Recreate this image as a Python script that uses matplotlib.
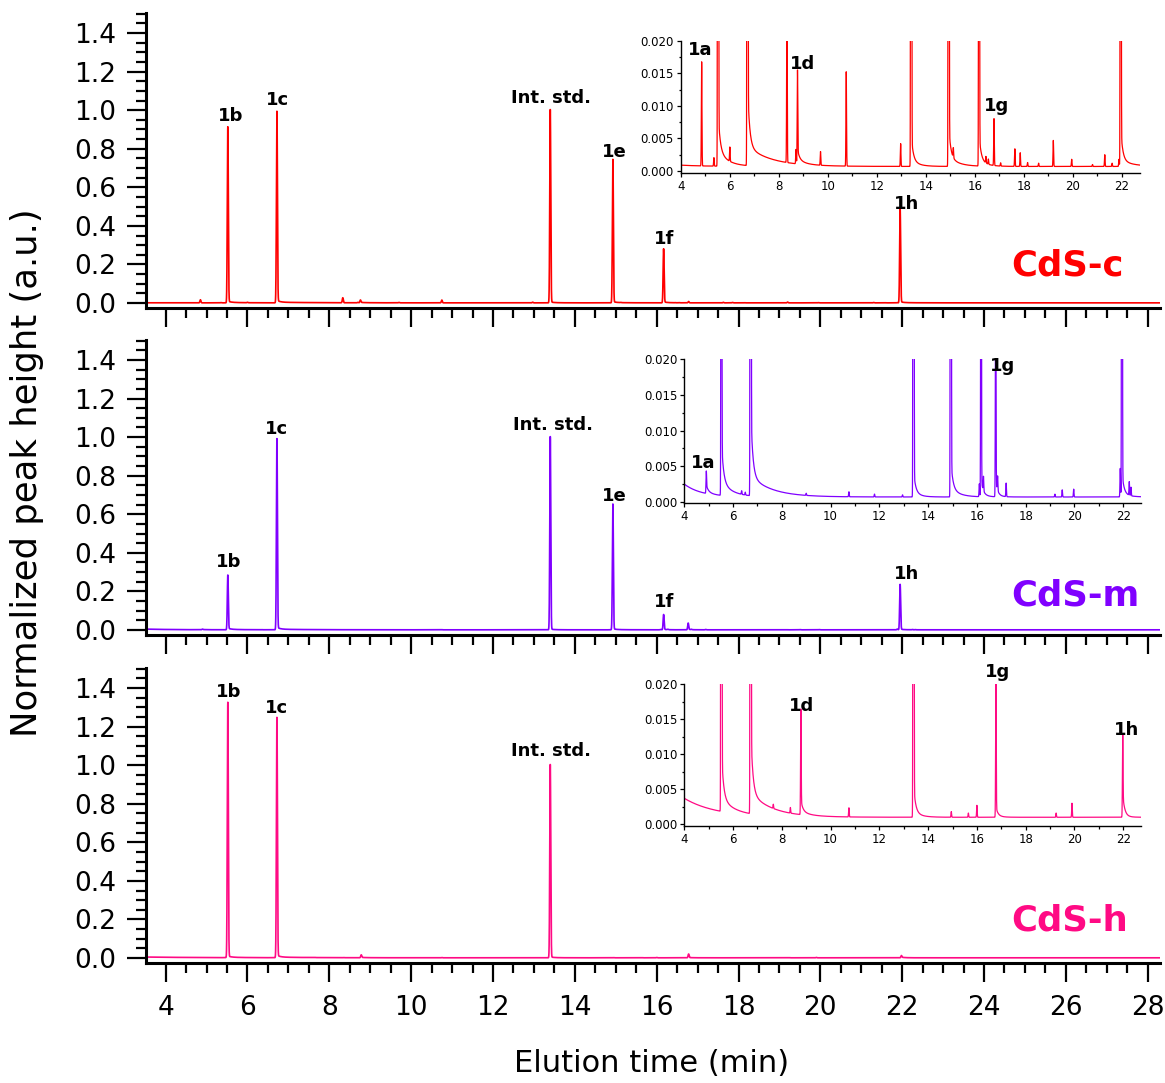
import numpy as np
import matplotlib
matplotlib.use("Agg")
import matplotlib.pyplot as plt
from matplotlib.ticker import MultipleLocator, FormatStrFormatter

# ---------------------------------------------------------------------------
# Chromatogram data: resolved peaks (retention time in min, normalized height
# above baseline), peak tailing terms and baseline drift for each catalyst.
# ---------------------------------------------------------------------------

# CdS-c
c_peak_t = [4.85, 5.35, 5.52, 6.00, 6.72, 8.33, 8.70, 8.76, 9.70, 10.75, 12.97,
            13.40, 14.93, 15.12, 16.17, 16.45, 16.55, 16.78, 17.05, 17.63, 17.85,
            18.15, 18.60, 19.20, 19.95, 20.80, 21.30, 21.60, 21.88, 21.95]
c_peak_h = [0.0160, 0.0013, 0.909, 0.0022, 0.987, 0.026, 0.0022, 0.0133, 0.0021,
            0.0145, 0.0035, 1.000, 0.741, 0.0015, 0.278, 0.0010, 0.0008, 0.0072,
            0.0005, 0.0027, 0.0021, 0.0006, 0.0005, 0.0040, 0.0011, 0.0003,
            0.0018, 0.0005, 0.0011, 0.486]
c_tail_t = [5.52, 6.72, 8.76, 13.40, 14.93, 16.17, 21.95]
c_tail_fast = [0.006, 0.010, 0.0015, 0.004, 0.005, 0.004, 0.005]
c_tail_slow = [0.0025, 0.003, 0.0008, 0.001, 0.0015, 0.001, 0.001]
c_tail_tau = [0.40, 1.00, 0.30, 0.30, 0.40, 0.30, 0.50]
c_base = [0.0007, 0.0002, 1.0]

# CdS-m
m_peak_t = [4.90, 5.52, 6.35, 6.50, 6.72, 9.00, 10.75, 11.80, 12.95, 13.40,
            14.93, 16.10, 16.17, 16.27, 16.77, 16.85, 17.20, 19.20, 19.50,
            19.97, 21.88, 21.95, 22.25, 22.32]
m_peak_h = [0.0025, 0.280, 0.0005, 0.0004, 0.985, 0.0003, 0.0007, 0.0004,
            0.0003, 1.000, 0.650, 0.0018, 0.078, 0.0020, 0.034, 0.0020, 0.0019,
            0.0004, 0.0010, 0.0011, 0.0040, 0.234, 0.0019, 0.0012]
m_tail_t = [4.90, 5.52, 6.72, 13.40, 14.93, 16.17, 16.77, 21.95]
m_tail_fast = [0.0008, 0.006, 0.010, 0.003, 0.004, 0.002, 0.002, 0.003]
m_tail_slow = [0.0004, 0.002, 0.0028, 0.0008, 0.0013, 0.0005, 0.0003, 0.0005]
m_tail_tau = [0.20, 0.45, 0.90, 0.25, 0.35, 0.20, 0.20, 0.30]
m_base = [0.0007, 0.0018, 0.7]

# CdS-h
h_peak_t = [5.52, 6.72, 7.65, 8.35, 8.78, 10.75, 13.40, 14.95, 15.65, 16.00,
            16.78, 19.25, 19.90, 21.98]
h_peak_h = [1.320, 1.240, 0.0006, 0.0008, 0.0140, 0.0013, 1.000, 0.0008,
            0.0006, 0.0017, 0.0190, 0.0006, 0.0020, 0.0100]
h_tail_t = [5.52, 6.72, 8.78, 13.40, 16.78, 21.98]
h_tail_fast = [0.007, 0.010, 0.0015, 0.004, 0.0012, 0.003]
h_tail_slow = [0.002, 0.003, 0.0006, 0.0008, 0.0003, 0.0003]
h_tail_tau = [0.50, 0.90, 0.30, 0.30, 0.20, 0.20]
h_base = [0.0010, 0.0027, 1.3]

# Peak annotations (compound name, retention time of the labelled peak)
c_main_names = ["1b", "1c", "Int. std.", "1e", "1f", "1h"]
c_main_t = [5.52, 6.72, 13.40, 14.93, 16.17, 21.95]
m_main_names = ["1b", "1c", "Int. std.", "1e", "1f", "1h"]
m_main_t = [5.52, 6.72, 13.40, 14.93, 16.17, 21.95]
h_main_names = ["1b", "1c", "Int. std."]
h_main_t = [5.52, 6.72, 13.40]

c_inset_names = ["1a", "1d", "1g"]
m_inset_names = ["1a", "1g"]
h_inset_names = ["1d", "1g", "1h"]

sample_names = ["CdS-c", "CdS-m", "CdS-h"]
x_ticks = [4, 6, 8, 10, 12, 14, 16, 18, 20, 22, 24, 26, 28]
y_ticks = [0.0, 0.2, 0.4, 0.6, 0.8, 1.0, 1.2, 1.4]
inset_x_ticks = [4, 6, 8, 10, 12, 14, 16, 18, 20, 22]
inset_y_ticks = [0.000, 0.005, 0.010, 0.015, 0.020]


def chromatogram(t, peak_t, peak_h, tail_t, tail_fast, tail_slow, tail_tau, base):
    """Sum of narrow Gaussian peaks, exponential peak tails and a drifting baseline."""
    sigma = 0.012
    y = base[0] + base[1] * np.exp(-(t - 4.0) / base[2])
    for tp, hp in zip(peak_t, peak_h):
        y = y + hp * np.exp(-0.5 * ((t - tp) / sigma) ** 2)
    for tp, af, as_, tau in zip(tail_t, tail_fast, tail_slow, tail_tau):
        dt = t - tp
        dpos = np.clip(dt, 0, None)
        step = 0.5 * (1 + np.tanh(dt / 0.012))
        y = y + step * (af * np.exp(-dpos / 0.08) + as_ * np.exp(-dpos / tau))
    return y


t = np.arange(3.50, 28.35, 0.002)
samples = [
    (c_peak_t, c_peak_h, c_tail_t, c_tail_fast, c_tail_slow, c_tail_tau, c_base),
    (m_peak_t, m_peak_h, m_tail_t, m_tail_fast, m_tail_slow, m_tail_tau, m_base),
    (h_peak_t, h_peak_h, h_tail_t, h_tail_fast, h_tail_slow, h_tail_tau, h_base),
]
signals = [chromatogram(t, *s) for s in samples]

colors = ["#FF0000", "#8000FF", "#FF0A84"]

plt.rcParams["font.family"] = ["DejaVu Sans"]

fig = plt.figure(figsize=(11.65, 10.83), dpi=100)

main_bottoms = [0.7156, 0.4137, 0.1108]
main_rects = [[0.1253, b, 0.8704, 0.2724] for b in main_bottoms]
inset_rects = [
    [0.5844, 0.8400, 0.3944, 0.1222],
    [0.5874, 0.5353, 0.3924, 0.1330],
    [0.5874, 0.2376, 0.3924, 0.1308],
]
inset_ylims = [(-0.00035, 0.020), (-0.00018, 0.020), (-0.0002, 0.020)]

main_labels = [
    (c_main_names, c_main_t, [(1.7, 5.0), (0.7, 5.5), (0.5, 5.3), (0.7, 2.4), (0.4, 3.8), (4.8, 0.0)]),
    (m_main_names, m_main_t, [(0.5, 6.8), (0.0, 4.0), (2.0, 5.4), (1.0, 2.9), (0.3, 5.8), (4.3, 3.9)]),
    (h_main_names, h_main_t, [(0.5, 5.0), (0.0, 4.0), (0.7, 6.8)]),
]
inset_labels = [
    (c_inset_names, [(4.78, 0.0186), (8.96, 0.0165), (16.90, 0.0100)]),
    (m_inset_names, [(4.79, 0.0054), (17.04, 0.0191)]),
    (h_inset_names, [(8.81, 0.0168), (16.86, 0.0217), (22.14, 0.0134)]),
]
name_y = [0.1085, 0.0983, 0.1085]

peak_lists = [(c_peak_t, c_peak_h), (m_peak_t, m_peak_h), (h_peak_t, h_peak_h)]

for i in range(3):
    ax = fig.add_axes(main_rects[i])
    ax.plot(t, signals[i], color=colors[i], lw=1.2)
    ax.set_xlim(3.52, 28.3)
    ax.set_ylim(-0.026, 1.504)
    for side in ("top", "right"):
        ax.spines[side].set_visible(False)
    for side in ("left", "bottom"):
        ax.spines[side].set_linewidth(2.2)
    ax.set_xticks(x_ticks)
    ax.set_yticks(y_ticks)
    ax.set_yticklabels([f"{v:.1f}" for v in y_ticks])
    ax.xaxis.set_minor_locator(MultipleLocator(0.5))
    ax.yaxis.set_minor_locator(MultipleLocator(0.05))
    ax.tick_params(which="major", direction="out", length=13.7, width=1.6, labelsize=19)
    ax.tick_params(which="minor", direction="out", length=7.2, width=1.6)
    ax.tick_params(axis="x", which="major", pad=9)
    ax.tick_params(axis="y", which="major", pad=8)
    if i < 2:
        ax.tick_params(axis="x", labelbottom=False)

    names, times, offsets = main_labels[i]
    pt, ph = peak_lists[i]
    for name, tp, off in zip(names, times, offsets):
        hp = ph[pt.index(tp)]
        ax.annotate(name, xy=(tp, hp), xytext=off, textcoords="offset points",
                    ha="center", va="baseline", fontsize=13, fontweight="bold")

    ax.text(0.8537, name_y[i], sample_names[i], transform=ax.transAxes,
            ha="left", va="baseline", fontsize=25.5, fontweight="bold",
            color=colors[i])

    # Enlarged view of the baseline region
    ins = fig.add_axes(inset_rects[i])
    ins.patch.set_alpha(0)
    ins.plot(t, signals[i], color=colors[i], lw=0.9)
    ins.set_xlim(4, 22.75)
    ins.set_ylim(*inset_ylims[i])
    for side in ("top", "right"):
        ins.spines[side].set_visible(False)
    for side in ("left", "bottom"):
        ins.spines[side].set_linewidth(1.0)
    ins.set_xticks(inset_x_ticks)
    ins.set_yticks(inset_y_ticks)
    ins.yaxis.set_major_formatter(FormatStrFormatter("%.3f"))
    ins.xaxis.set_minor_locator(MultipleLocator(1))
    ins.yaxis.set_minor_locator(MultipleLocator(0.0025))
    ins.tick_params(which="major", direction="out", length=3, width=0.9,
                    labelsize=8.5, pad=2)
    ins.tick_params(which="minor", direction="out", length=1.8, width=0.9)
    inames, ipos = inset_labels[i]
    for name, (xl, yl) in zip(inames, ipos):
        ins.text(xl, yl, name, ha="center", va="center", fontsize=13,
                 fontweight="bold", clip_on=False)

fig.text(27 / 1165, 1 - 473 / 1083, "Normalized peak height (a.u.)",
         rotation=90, ha="center", va="center", fontsize=25.5)
fig.text(652 / 1165, 1 - 1063 / 1083, "Elution time (min)",
         ha="center", va="center", fontsize=22)

fig.savefig("out.png", dpi=100, facecolor="white")
